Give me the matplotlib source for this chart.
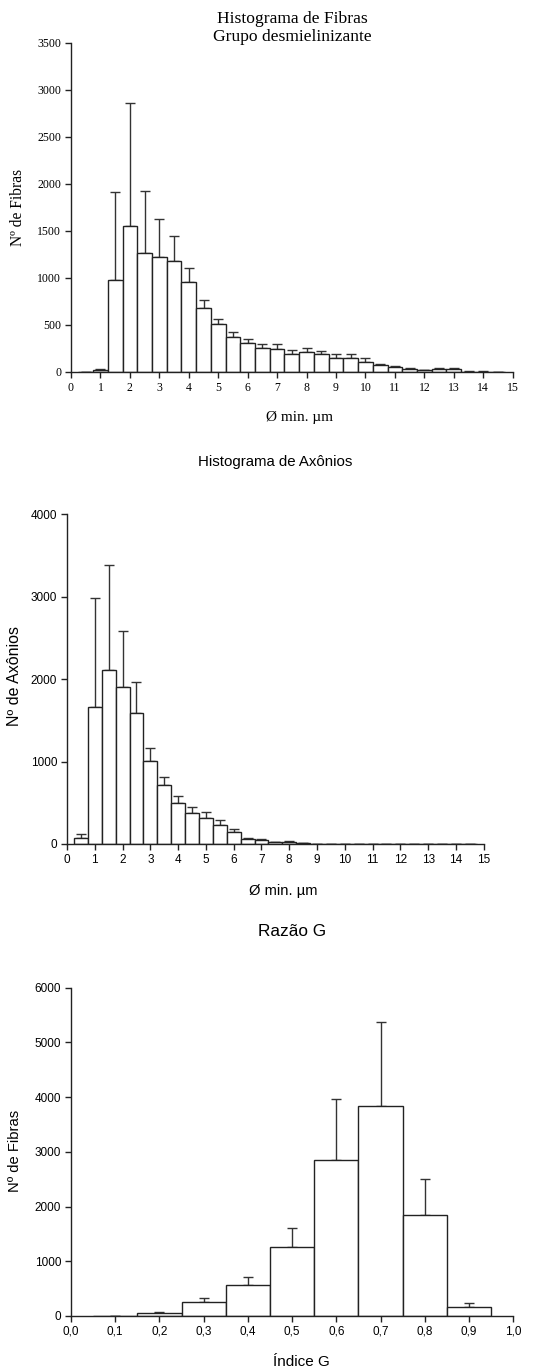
import numpy as np
import matplotlib
matplotlib.use("Agg")
import matplotlib.pyplot as plt

W, H = 539, 1370

# Histograma de Fibras (Ø min. µm), bins de 0,5 µm
fibras_x = np.arange(0.5, 15.0, 0.5)
fibras_media = [0, 21, 975, 1555, 1262, 1220, 1177, 960, 680, 505,
                375, 308, 252, 248, 195, 213, 188, 152, 149, 110,
                71, 53, 35, 18, 32, 28, 4, 4, 0]
fibras_dp = [0, 11, 943, 1305, 667, 404, 273, 150, 90, 55,
             47, 47, 49, 50, 43, 46, 39, 36, 39, 39,
             18, 14, 11, 7, 14, 15, 2, 2, 0]

# Histograma de Axônios
axonios_x = np.arange(0.5, 15.0, 0.5)
axonios_media = [69, 1660, 2109, 1903, 1591, 1004, 713, 498, 381, 316,
                 227, 150, 65, 45, 20, 28, 8, 4, 3, 2,
                 4, 1, 1, 1, 1, 1, 1, 1, 1]
axonios_dp = [48, 1330, 1281, 687, 381, 162, 97, 81, 68, 69,
              60, 36, 12, 12, 0, 12, 0, 2, 1, 0,
              1, 0, 0, 0, 0, 0, 0, 0, 0]

# Razão G
g_x = np.arange(1, 10) / 10
g_media = [5, 49, 250, 561, 1256, 2860, 3835, 1841, 159]
g_dp = [3, 18, 73, 152, 354, 1110, 1535, 671, 73]

SERIF = ["Liberation Serif", "DejaVu Serif"]
SANS = ["Liberation Sans", "DejaVu Sans"]


def fx(px):
    return px / W


def fy(py):
    return 1 - py / H


def box(left, top, right, bottom):
    return [fx(left), fy(bottom), fx(right) - fx(left), fy(top) - fy(bottom)]


def histograma(ax, x, media, dp, largura):
    ax.bar(x, media, width=largura, color="white", edgecolor="#222222",
           linewidth=1.0, zorder=2)
    sup = np.array(dp)
    ax.errorbar(x, media, yerr=[np.zeros_like(sup), sup], fmt="none",
                ecolor="#333333", elinewidth=1.0, capsize=3.5, capthick=1.0,
                zorder=1)
    for s in ("top", "right"):
        ax.spines[s].set_visible(False)
    for s in ("left", "bottom"):
        ax.spines[s].set_linewidth(1.0)
        ax.spines[s].set_color("#222222")
    ax.tick_params(direction="out", length=4, width=1.0, color="#222222",
                   labelsize=8.5, pad=3)


def fonte(ax, family):
    for lbl in ax.get_xticklabels() + ax.get_yticklabels():
        lbl.set_family(family)


fig = plt.figure(figsize=(W / 100, H / 100), dpi=100)

# --- Fibras ---
ax1 = fig.add_axes(box(71, 42.7, 512.7, 372))
histograma(ax1, fibras_x, fibras_media, fibras_dp, 0.5)
ax1.set_xlim(0, 15)
ax1.set_ylim(0, 3500)
ax1.set_xticks(range(0, 16))
ax1.set_yticks(range(0, 3501, 500))
fonte(ax1, SERIF)
fig.text(fx(292), fy(28), "Histograma de Fibras\nGrupo desmielinizante",
         ha="center", va="center", fontsize=12.6, family=SERIF, linespacing=1.1)
fig.text(fx(300), fy(417), "Ø min. µm", ha="center", va="center",
         fontsize=11, family=SERIF)
fig.text(fx(18), fy(207), "Nº de Fibras", ha="center", va="center",
         rotation=90, fontsize=11.2, family=SERIF)

# --- Axônios ---
ax2 = fig.add_axes(box(67, 514.4, 483.7, 844))
histograma(ax2, axonios_x, axonios_media, axonios_dp, 0.5)
ax2.set_xlim(0, 15)
ax2.set_ylim(0, 4000)
ax2.set_xticks(range(0, 16))
ax2.set_yticks(range(0, 4001, 1000))
fonte(ax2, SANS)
fig.text(fx(275), fy(461.7), "Histograma de Axônios", ha="center",
         va="center", fontsize=10.8, family=SANS)
fig.text(fx(283.5), fy(890.7), "Ø min. µm", ha="center", va="center",
         fontsize=10.6, family=SANS)
fig.text(fx(15), fy(676), "Nº de Axônios", ha="center", va="center",
         rotation=90, fontsize=11.5, family=SANS)

# --- Razão G ---
ax3 = fig.add_axes(box(71, 987.7, 513.3, 1316))
histograma(ax3, g_x, g_media, g_dp, 0.1)
ax3.set_xlim(0, 1.0)
ax3.set_ylim(0, 6000)
ticks_g = np.arange(0, 11) / 10
ax3.set_xticks(ticks_g)
ax3.set_xticklabels([f"{t:.1f}".replace(".", ",") for t in ticks_g])
ax3.set_yticks(range(0, 6001, 1000))
fonte(ax3, SANS)
fig.text(fx(292), fy(931.7), "Razão G", ha="center", va="center",
         fontsize=12.4, family=SANS)
fig.text(fx(301), fy(1361.7), "Índice G", ha="center", va="center",
         fontsize=11, family=SANS)
fig.text(fx(15), fy(1151), "Nº de Fibras", ha="center", va="center",
         rotation=90, fontsize=10.6, family=SANS)

fig.savefig("out.png", dpi=100, facecolor="white")
